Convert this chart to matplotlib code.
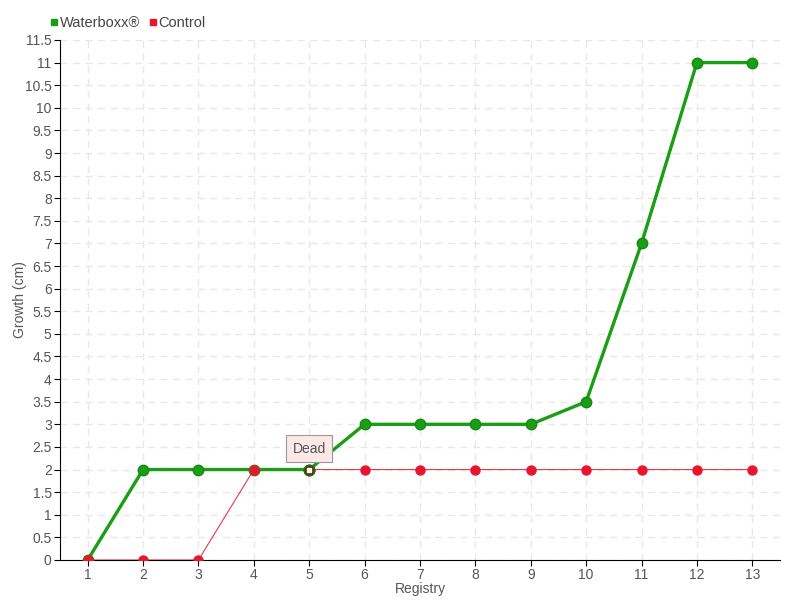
import matplotlib
matplotlib.use("Agg")
import matplotlib.pyplot as plt
from matplotlib.lines import Line2D

registry = list(range(1, 14))
waterboxx = [0, 2, 2, 2, 2, 3, 3, 3, 3, 3.5, 7, 11, 11]
control = [0, 0, 0, 2, 2, 2, 2, 2, 2, 2, 2, 2, 2]
dead_index = 4  # registry 5
yticks = [i * 0.5 for i in range(24)]

plt.rcParams['font.family'] = ['Liberation Sans', 'DejaVu Sans']
fig = plt.figure(figsize=(8, 6), dpi=100)
ax = fig.add_axes([0.075, 0.0667, 0.9, 0.8667])

green = '#1a9e14'
red = '#e8162c'

ax.plot(registry, waterboxx, color=green, lw=2.4, marker='o', ms=7.5,
        mfc=green, mec='#168a10', zorder=4)
ax.plot(registry, control, color=red, lw=0.8, alpha=0.85, zorder=3)
ax.plot([r for i, r in enumerate(registry) if i != dead_index],
        [c for i, c in enumerate(control) if i != dead_index],
        ls='none', marker='o', ms=6.5, mfc=red, mec=red, zorder=5)
ax.plot([registry[dead_index]], [control[dead_index]], ls='none', marker='o', ms=7.5,
        mfc='#8b0d0d', mec='#1a6e14', mew=1.2, zorder=5)
ax.plot([registry[dead_index]], [control[dead_index]], ls='none', marker='s', ms=3.5,
        mfc='white', mec='white', zorder=6)

ax.annotate('Dead', xy=(registry[dead_index], control[dead_index]), xytext=(0, 15),
            textcoords='offset points', ha='center', va='center', fontsize=10, color='#555555',
            bbox=dict(boxstyle='square,pad=0.45', fc='#fde8e8', ec='#999999', lw=0.8),
            zorder=7)

ax.set_xlim(0.5, 13.5)
ax.set_ylim(0, 11.5)
ax.set_xticks(registry)
ax.set_yticks(yticks)
ax.set_yticklabels([('%g' % v) for v in yticks])
ax.tick_params(labelcolor='#555555', labelsize=10, length=4, color='black', pad=2)
ax.grid(True, ls=(0, (5, 4)), color='#e8e8e8', lw=1)
ax.set_axisbelow(True)
for s in ['top', 'right']:
    ax.spines[s].set_visible(False)
ax.set_xlabel('Registry', color='#555555', fontsize=10, labelpad=0)
ax.set_ylabel('Growth (cm)', color='#555555', fontsize=10)
ax.yaxis.set_label_coords(-0.046, 0.5)

handles = [Line2D([], [], ls='none', marker='s', ms=5, mfc=green, mec=green),
           Line2D([], [], ls='none', marker='s', ms=5, mfc=red, mec=red)]
fig.legend(handles, ['Waterboxx®', 'Control'], loc='upper left', bbox_to_anchor=(0.045, 0.995),
           ncol=2, frameon=False, fontsize=10.5, handletextpad=0.05, columnspacing=0.5,
           handlelength=0.7, labelcolor='#444444')

fig.savefig('out.png', dpi=100)
